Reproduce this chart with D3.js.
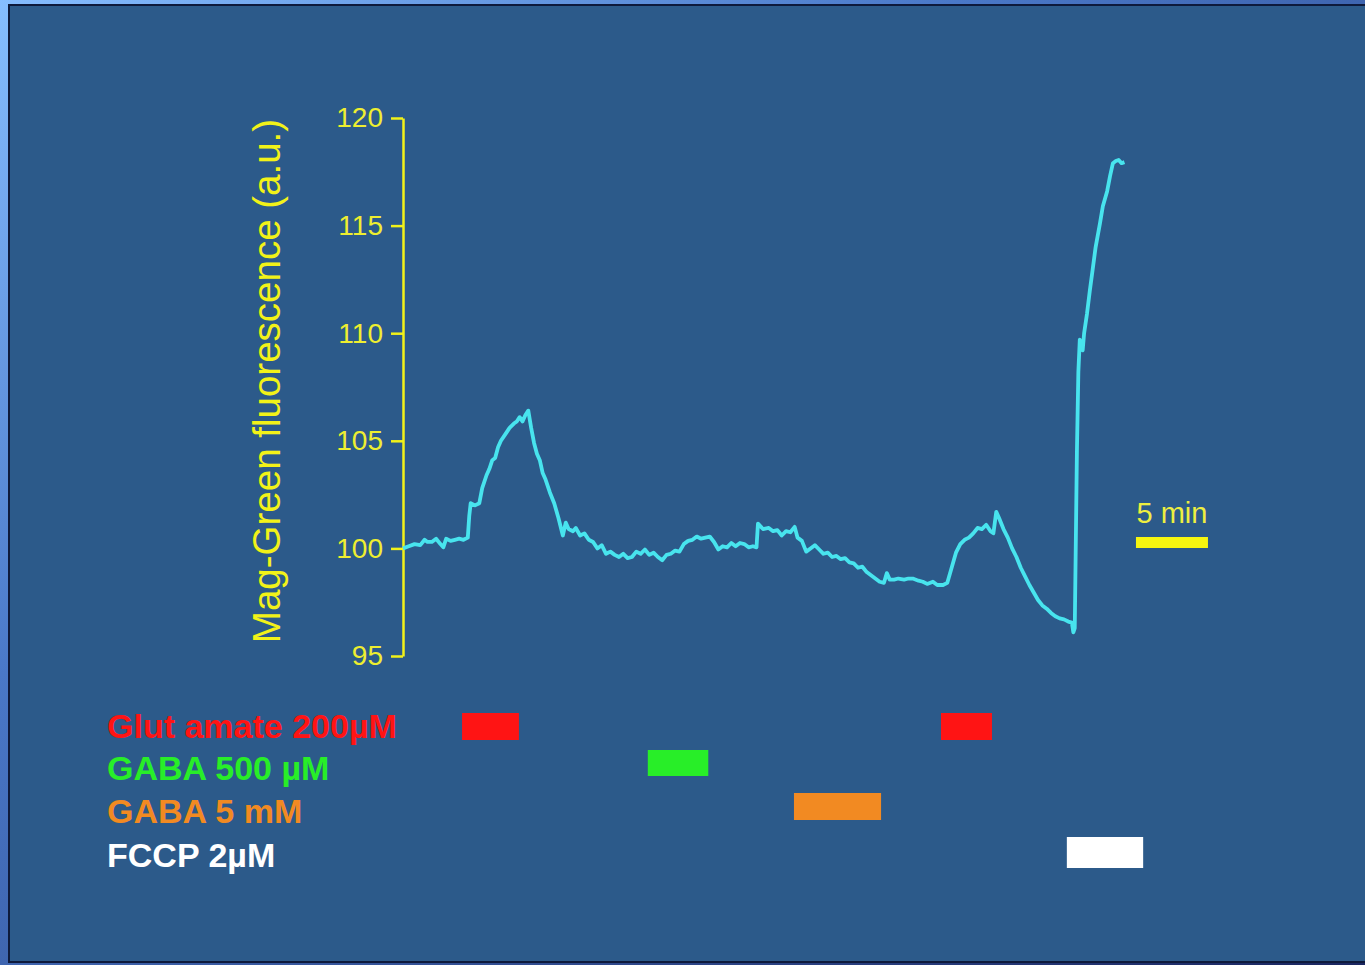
<!DOCTYPE html>
<html>
<head>
<meta charset="utf-8">
<script src="https://cdn.jsdelivr.net/npm/d3@7"></script>
<style>
  body { margin: 0; background: #1c2f70; overflow: hidden; }
  svg { display: block; }
</style>
</head>
<body>
<div id="chart"></div>
<script>
// temps (min) et fluorescence
var traceTime = [0.0,0.4,0.8,1.2,1.5,1.7,2.0,2.3,2.6,2.8,3.0,3.3,3.6,3.9,4.2,4.5,4.6,4.7,5.0,5.3,5.5,5.8,6.0,6.2,6.4,6.6,6.8,7.1,7.4,7.7,7.9,8.1,8.3,8.5,8.7,8.9,9.1,9.3,9.5,9.7,9.9,10.2,10.5,10.8,11.1,11.3,11.5,11.8,12.0,12.3,12.6,12.9,13.2,13.5,13.8,14.1,14.4,14.7,15.0,15.3,15.6,15.9,16.2,16.5,16.8,17.1,17.4,17.7,18.0,18.3,18.6,18.9,19.2,19.5,19.8,20.1,20.4,20.7,21.0,21.3,21.6,21.9,22.2,22.5,22.8,23.1,23.4,23.7,24.0,24.3,24.55,24.65,25.0,25.4,25.7,26.0,26.3,26.6,26.9,27.2,27.4,27.7,28.0,28.3,28.6,28.9,29.2,29.5,29.8,30.1,30.4,30.7,31.0,31.3,31.6,31.9,32.2,32.5,32.8,33.1,33.4,33.6,33.8,34.1,34.4,34.8,35.1,35.4,35.8,36.1,36.4,36.8,37.1,37.5,37.8,38.1,38.4,38.7,39.0,39.3,39.6,39.9,40.2,40.5,40.8,41.0,41.2,41.4,41.7,42.0,42.3,42.6,42.9,43.2,43.5,43.8,44.1,44.4,44.7,45.0,45.3,45.6,45.9,46.2,46.45,46.55,46.65,46.8,46.9,47.0,47.1,47.2,47.3,47.5,47.7,47.9,48.1,48.4,48.6,48.9,49.1,49.3,49.5,49.7,49.9,50.1];
var traceValue = [100.0,100.1,100.2,100.15,100.4,100.3,100.3,100.45,100.2,100.05,100.45,100.35,100.4,100.45,100.4,100.5,101.5,102.1,102.0,102.1,102.8,103.4,103.7,104.1,104.2,104.7,105.0,105.3,105.6,105.8,105.9,106.1,105.9,106.2,106.4,105.6,104.9,104.4,104.1,103.5,103.2,102.6,102.1,101.4,100.6,101.2,100.9,100.8,100.95,100.6,100.7,100.4,100.3,100.0,100.15,99.75,99.85,99.7,99.6,99.75,99.55,99.6,99.85,99.75,99.95,99.7,99.8,99.6,99.45,99.7,99.75,99.9,99.85,100.2,100.35,100.4,100.55,100.45,100.5,100.55,100.3,99.95,100.1,100.05,100.25,100.1,100.25,100.2,100.05,100.1,100.05,101.15,100.9,100.95,100.8,100.85,100.6,100.8,100.75,101.0,100.5,100.35,99.85,100.0,100.15,99.95,99.75,99.8,99.6,99.65,99.5,99.55,99.35,99.3,99.1,99.15,98.9,98.75,98.6,98.45,98.4,98.85,98.55,98.55,98.6,98.55,98.6,98.6,98.5,98.45,98.35,98.45,98.3,98.3,98.4,99.1,99.8,100.2,100.4,100.5,100.7,100.95,100.9,101.1,100.8,100.7,101.7,101.4,100.9,100.5,100.0,99.6,99.1,98.7,98.3,97.95,97.6,97.35,97.2,97.0,96.85,96.75,96.7,96.6,96.55,96.1,96.3,104.5,108.2,109.7,109.4,109.2,110.0,110.9,112.0,113.0,114.0,115.1,115.9,116.6,117.3,117.9,118.0,118.05,117.9,117.95];

var yTicks = [95, 100, 105, 110, 115, 120];

// applications des drogues (min)
var drugLabels = ["Glut amate 200µM", "GABA 500 µM", "GABA 5 mM", "FCCP 2µM"];
var drugColors = ["#ff1414", "#28ee28", "#f28a22", "#ffffff"];
var appRow = [0, 0, 1, 2, 3];
var appStart = [4.1, 37.36, 17.0, 27.15, 46.1];
var appEnd = [8.05, 40.9, 21.2, 33.2, 51.4];

var scaleBarMin = 5;

function draw()
{
	var width = 1365, height = 965;

	var svg = d3.select("#chart").append("svg")
		.attr("width", width)
		.attr("height", height);

	// fond exterieur en degrade
	var defs = svg.append("defs");
	var g1 = defs.append("linearGradient").attr("id", "outer")
		.attr("x1", 0).attr("y1", 0).attr("x2", 1).attr("y2", 1);
	g1.append("stop").attr("offset", 0).attr("stop-color", "#86bdff");
	g1.append("stop").attr("offset", 0.35).attr("stop-color", "#4a78c8");
	g1.append("stop").attr("offset", 1).attr("stop-color", "#1a2660");
	svg.append("rect").attr("width", width).attr("height", height).attr("fill", "url(#outer)");

	// panneau bleu
	svg.append("rect")
		.attr("x", 9).attr("y", 5)
		.attr("width", width).attr("height", 957)
		.attr("fill", "#2c5a8a")
		.attr("stroke", "#0e1a3c")
		.attr("stroke-width", 2);

	var x = d3.scaleLinear().domain([0, 50]).range([403, 1123]);
	var y = d3.scaleLinear().domain([95, 120]).range([656, 118]);

	// axe y
	var yAxis = svg.append("g")
		.attr("transform", "translate(403,0)")
		.call(d3.axisLeft(y).tickValues(yTicks).tickSize(12).tickSizeOuter(0).tickPadding(8));
	yAxis.select(".domain").attr("stroke", "#f2f218").attr("stroke-width", 2.5);
	yAxis.selectAll(".tick line").attr("stroke", "#f2f218").attr("stroke-width", 2.5);
	yAxis.selectAll(".tick text")
		.attr("fill", "#eeee30")
		.attr("font-family", "'Liberation Sans', Arial, sans-serif")
		.attr("font-size", 28);

	svg.append("text")
		.attr("transform", "translate(280,381) rotate(-90)")
		.attr("text-anchor", "middle")
		.attr("fill", "#f2f218")
		.attr("font-family", "'Liberation Sans', Arial, sans-serif")
		.attr("font-size", 38.5)
		.text("Mag-Green fluorescence (a.u.)");

	// trace
	var pts = traceTime.map(function(t, i) { return [t, traceValue[i]]; });
	var line = d3.line()
		.x(function(d) { return x(d[0]); })
		.y(function(d) { return y(d[1]); });
	svg.append("path")
		.datum(pts)
		.attr("d", line)
		.attr("fill", "none")
		.attr("stroke", "#48e4ee")
		.attr("stroke-width", 3.8)
		.attr("stroke-linejoin", "round");

	// barre d'echelle 5 min
	var t0 = 50.9;
	svg.append("rect")
		.attr("x", x(t0)).attr("y", 537)
		.attr("width", x(t0 + scaleBarMin) - x(t0)).attr("height", 11)
		.attr("fill", "#f6f610");
	svg.append("text")
		.attr("x", (x(t0) + x(t0 + scaleBarMin)) / 2).attr("y", 523)
		.attr("text-anchor", "middle")
		.attr("fill", "#eeee40")
		.attr("font-family", "'Liberation Sans', Arial, sans-serif")
		.attr("font-size", 29)
		.text(scaleBarMin + " min");

	// legendes et barres des drogues
	var rowBase = [738, 780, 823, 867];
	var barTop = [713, 750, 793, 837];
	var barH = [27, 26, 27, 31];

	svg.selectAll(".druglab")
		.data(drugLabels)
		.enter().append("text")
		.attr("class", "druglab")
		.attr("x", 107)
		.attr("y", function(d, i) { return rowBase[i]; })
		.attr("fill", function(d, i) { return drugColors[i]; })
		.attr("font-family", "'Liberation Sans', Arial, sans-serif")
		.attr("font-weight", "bold")
		.attr("font-size", 34)
		.text(function(d) { return d; });

	svg.selectAll(".app")
		.data(appRow)
		.enter().append("rect")
		.attr("class", "app")
		.attr("x", function(r, i) { return x(appStart[i]); })
		.attr("width", function(r, i) { return x(appEnd[i]) - x(appStart[i]); })
		.attr("y", function(r) { return barTop[r]; })
		.attr("height", function(r) { return barH[r]; })
		.attr("fill", function(r) { return drugColors[r]; });
}

draw();
</script>
</body>
</html>
